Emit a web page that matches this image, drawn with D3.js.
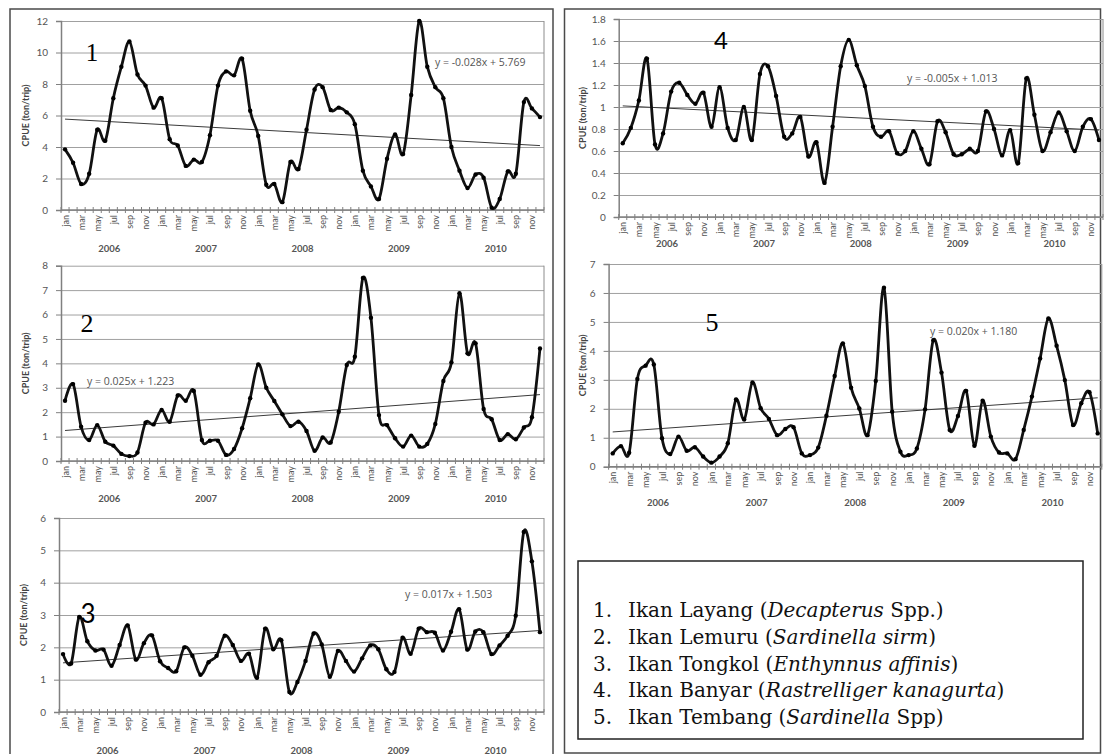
<!DOCTYPE html>
<html><head><meta charset="utf-8">
<script src="https://cdn.jsdelivr.net/npm/d3@7"></script>
<style>body{margin:0;background:#fff} svg{display:block}</style>
</head><body><svg id="c" width="1104" height="754"></svg>
<script>
// ---------- data ----------
const months = ["jan","feb","mar","apr","may","jun","jul","aug","sep","oct","nov","dec"];
const shownMonths = ["jan","mar","may","jul","sep","nov"];
const years = ["2006","2007","2008","2009","2010"];

const cpue1 = [3.85,3.0,1.65,2.3,5.1,4.4,7.1,9.1,10.7,8.6,7.9,6.5,
  7.1,4.5,4.1,2.8,3.2,3.05,4.75,7.9,8.8,8.55,9.6,6.3,
  4.7,1.6,1.65,0.5,3.05,2.6,5.1,7.65,7.8,6.35,6.5,6.2,
  5.45,2.5,1.5,0.7,3.25,4.8,3.55,7.3,12.0,9.1,7.8,7.1,
  4.0,2.5,1.4,2.25,2.05,0.15,0.7,2.45,2.3,6.85,6.45,5.9];
const cpue2 = [2.47,3.15,1.4,0.86,1.47,0.79,0.63,0.29,0.2,0.35,1.57,1.5,
  2.09,1.61,2.68,2.47,2.87,0.86,0.83,0.83,0.25,0.49,1.34,2.57,
  3.96,3.0,2.46,1.91,1.43,1.61,1.23,0.42,0.96,0.76,2.02,3.93,
  4.27,7.5,5.87,1.88,1.47,0.93,0.59,1.04,0.59,0.7,1.52,3.28,
  4.04,6.87,4.41,4.82,2.13,1.71,0.86,1.1,0.89,1.37,1.79,4.61];
const cpue3 = [1.79,1.5,2.94,2.19,1.9,1.93,1.43,2.07,2.68,1.62,2.13,2.37,
  1.57,1.36,1.26,2.0,1.74,1.15,1.54,1.74,2.36,2.07,1.58,1.8,
  1.06,2.58,1.94,2.22,0.62,0.93,1.58,2.43,2.09,1.09,1.89,1.58,
  1.25,1.66,2.06,1.94,1.32,1.24,2.3,1.8,2.58,2.47,2.45,1.9,
  2.48,3.18,1.93,2.49,2.47,1.79,2.06,2.36,2.98,5.57,4.66,2.47];
const cpue4 = [0.67,0.81,1.06,1.44,0.66,0.76,1.14,1.22,1.11,1.03,1.13,0.82,
  1.18,0.81,0.70,1.0,0.70,1.30,1.37,1.10,0.73,0.76,0.91,0.55,
  0.68,0.31,0.82,1.37,1.61,1.38,1.19,0.82,0.73,0.78,0.58,0.6,
  0.78,0.62,0.48,0.87,0.77,0.57,0.57,0.62,0.6,0.96,0.8,0.56,
  0.79,0.49,1.26,0.93,0.6,0.77,0.95,0.78,0.6,0.82,0.89,0.7];
const cpue5 = [0.46,0.71,0.48,3.03,3.49,3.53,0.98,0.44,1.04,0.55,0.67,0.35,
  0.14,0.35,0.81,2.32,1.63,2.91,2.02,1.65,1.09,1.3,1.36,0.46,
  0.4,0.66,1.76,3.13,4.26,2.73,2.01,1.09,2.96,6.18,1.9,0.52,
  0.4,0.63,1.98,4.37,3.25,1.27,1.75,2.62,0.72,2.28,1.04,0.49,
  0.46,0.26,1.27,2.42,3.74,5.12,4.18,2.99,1.44,2.19,2.57,1.15];

const yTicks1 = [0,2,4,6,8,10,12];
const yTicks2 = [0,1,2,3,4,5,6,7,8];
const yTicks3 = [0,1,2,3,4,5,6];
const yTicks4 = [0,0.2,0.4,0.6,0.8,1,1.2,1.4,1.6,1.8];
const yTicks5 = [0,1,2,3,4,5,6,7];

const trendLabels = ["y = -0.028x + 5.769","y = 0.025x + 1.223","y = 0.017x + 1.503","y = -0.005x + 1.013","y = 0.020x + 1.180"];
const trendFrom = [5.77,1.25,1.52,1.01,1.20];
const trendTo = [4.09,2.72,2.52,0.79,2.38];
const panelNumbers = ["1","2","3","4","5"];
const yAxisTitle = "CPUE (ton/trip)";

const legendNums = ["1.","2.","3.","4.","5."];
const legendPre = ["Ikan Layang (","Ikan Lemuru (","Ikan Tongkol (","Ikan Banyar (","Ikan Tembang ("];
const legendItal = ["Decapterus","Sardinella sirm","Enthynnus affinis","Rastrelliger kanagurta","Sardinella"];
const legendPost = [" Spp.)",")",")",")"," Spp)"];

// ---------- layout ----------
const periods = years.flatMap(y => months.map(m => y + "-" + m));
const panels = [
  {values:cpue1, ticks:yTicks1, L:61, R:544, T:21, B:210, titleX:25, num:[92,52,"serif",25], trend:[435,62], yearDy:38},
  {values:cpue2, ticks:yTicks2, L:61, R:544, T:265.7, B:461, titleX:25, num:[87,323,"serif",26], trend:[87,381], yearDy:37},
  {values:cpue3, ticks:yTicks3, L:59, R:544, T:518, B:712, titleX:23, num:[88,613,"sans",26], trend:[405,594], yearDy:38},
  {values:cpue4, ticks:yTicks4, L:618.7, R:1103, T:19, B:217, titleX:582, num:[721,39,"sans",24], trend:[907,78], yearDy:26},
  {values:cpue5, ticks:yTicks5, L:608.6, R:1101.8, T:264, B:466.7, titleX:582, num:[712,322,"serif",26], trend:[930,331], yearDy:36}
];

const svg = d3.select("#c");
const SANS = "Lato, 'Open Sans', sans-serif";

// outer boxes
svg.append("rect").attr("x",10).attr("y",9).attr("width",543).attr("height",760)
  .attr("fill","none").attr("stroke","#4a4a4a").attr("stroke-width",1.5);
svg.append("rect").attr("x",564.5).attr("y",9).attr("width",536).attr("height",744)
  .attr("fill","none").attr("stroke","#4a4a4a").attr("stroke-width",1.5);

panels.forEach((p, k) => {
  const g = svg.append("g");
  const x = d3.scaleBand().domain(periods).range([p.L, p.R]);
  const bw = x.bandwidth();
  const cx = d => x(d) + bw / 2;
  const ymax = p.ticks[p.ticks.length - 1];
  const y = d3.scaleLinear().domain([0, ymax]).range([p.B, p.T]);

  // gridlines
  const grid = g.append("g").attr("transform", `translate(${p.L},0)`)
    .call(d3.axisLeft(y).tickValues(p.ticks).tickSize(-(p.R - p.L)).tickFormat(""));
  grid.select(".domain").remove();
  grid.selectAll("line").attr("stroke","#a0a0a0").attr("stroke-width",1);

  // plot border (right)
  g.append("line").attr("x1",p.R).attr("x2",p.R).attr("y1",p.T).attr("y2",p.B)
    .attr("stroke","#8c8c8c").attr("stroke-width",1);

  // y axis
  const ya = g.append("g").attr("transform", `translate(${p.L},0)`)
    .call(d3.axisLeft(y).tickValues(p.ticks).tickSize(5).tickPadding(8)
      .tickFormat(v => String(+v.toFixed(1))));
  ya.select(".domain").attr("stroke","#808080").attr("stroke-width",1.5);
  ya.selectAll("line").attr("stroke","#808080");
  ya.selectAll("text").attr("font-family",SANS).attr("font-size",10).attr("fill","#555");

  // x axis line
  g.append("line").attr("x1",p.L).attr("x2",p.R).attr("y1",p.B).attr("y2",p.B)
    .attr("stroke","#808080").attr("stroke-width",1.5);
  // cross tick marks at category boundaries
  const bounds = periods.map(d => x(d)).concat([p.R]);
  g.append("g").selectAll("line").data(bounds).join("line")
    .attr("x1", d => d).attr("x2", d => d)
    .attr("y1", p.B - 3).attr("y2", p.B + 3)
    .attr("stroke","#808080").attr("stroke-width",1);

  // month labels
  g.append("g").selectAll("text")
    .data(periods.filter(d => shownMonths.includes(d.split("-")[1])))
    .join("text")
    .attr("transform", d => `translate(${cx(d)},${p.B + 5}) rotate(-90)`)
    .attr("text-anchor","end").attr("dominant-baseline","central")
    .attr("font-family",SANS).attr("font-size",9).attr("fill","#555")
    .text(d => d.split("-")[1]);

  // year labels
  g.append("g").selectAll("text").data(years).join("text")
    .attr("x", yr => x(yr + "-jan") + 6 * bw)
    .attr("y", p.B + p.yearDy)
    .attr("text-anchor","middle").attr("dominant-baseline","central")
    .attr("font-family",SANS).attr("font-size",9.5).attr("font-weight","bold").attr("fill","#555")
    .text(yr => yr);

  // y axis title
  g.append("text")
    .attr("transform", `translate(${p.titleX},${(p.T + p.B) / 2}) rotate(-90)`)
    .attr("text-anchor","middle").attr("dominant-baseline","central")
    .attr("font-family",SANS).attr("font-size",9).attr("font-weight","bold").attr("fill","#444")
    .text(yAxisTitle);

  // trend line
  g.append("line")
    .attr("x1", cx(periods[0])).attr("y1", y(trendFrom[k]))
    .attr("x2", cx(periods[periods.length - 1])).attr("y2", y(trendTo[k]))
    .attr("stroke","#3a3a3a").attr("stroke-width",1);
  g.append("text").attr("x", p.trend[0]).attr("y", p.trend[1])
    .attr("dominant-baseline","central")
    .attr("font-family","'Open Sans', sans-serif").attr("font-size",10.5).attr("fill","#555")
    .text(trendLabels[k]);

  // series line
  const line = d3.line().x((v, i) => cx(periods[i])).y(v => y(v)).curve(d3.curveCatmullRom.alpha(0));
  g.append("path").datum(p.values).attr("d", line)
    .attr("fill","none").attr("stroke","#111").attr("stroke-width",2.8).attr("stroke-linejoin","round");
  g.append("g").selectAll("circle").data(p.values).join("circle")
    .attr("cx", (v, i) => cx(periods[i])).attr("cy", v => y(v)).attr("r", 2.2).attr("fill","#000");

  // panel number
  g.append("text").attr("x", p.num[0]).attr("y", p.num[1])
    .attr("text-anchor","middle").attr("dominant-baseline","central")
    .attr("font-family", p.num[2] === "serif" ? "'Liberation Serif', 'DejaVu Serif', serif" : SANS)
    .attr("font-size", p.num[3]).attr("fill","#000")
    .text(panelNumbers[k]);
});

// legend box
svg.append("rect").attr("x",578).attr("y",561).attr("width",505).attr("height",178)
  .attr("fill","#fff").attr("stroke","#222").attr("stroke-width",1.5);
const lg = svg.append("g").attr("font-family","'DejaVu Serif', serif").attr("font-size",20).attr("fill","#111");
legendNums.forEach((n, i) => {
  const yy = 610 + i * 26.8;
  lg.append("text").attr("x",593).attr("y",yy).attr("dominant-baseline","central").text(n);
  const t = lg.append("text").attr("x",628).attr("y",yy).attr("dominant-baseline","central");
  t.append("tspan").text(legendPre[i]);
  t.append("tspan").attr("font-style","italic").text(legendItal[i]);
  t.append("tspan").text(legendPost[i]);
});
</script>
</body></html>
